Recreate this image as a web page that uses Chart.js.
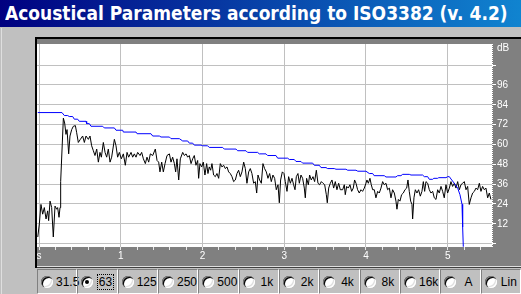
<!DOCTYPE html>
<html>
<head>
<meta charset="utf-8">
<script src="https://cdn.jsdelivr.net/npm/chart.js@4.4.1/dist/chart.umd.min.js"></script>
<style>
    html, body { margin: 0; padding: 0; }
    body {
        width: 521px; height: 294px; position: relative; overflow: hidden;
        background: #c0c0c0; font-family: "Liberation Sans", Arial, sans-serif;
    }
    #title {
        position: absolute; left: 0; top: 0; width: 521px; height: 27px;
        background: linear-gradient(to right, #000080, #1084d0);
    }
    #title span {
        position: absolute; left: 5px; top: 2px; color: #fff; white-space: nowrap;
        font: bold 19px "DejaVu Sans", Verdana, sans-serif; transform-origin: 0 0;
    }
    #edge { position: absolute; left: 1px; top: 28px; width: 1px; height: 266px; background: #dfdfdf; }
    #wrap { position: absolute; left: 35px; top: 37px; width: 486px; height: 231px; }
    .cell {
        position: absolute; top: 269px; height: 25px; box-sizing: border-box;
        border: 1px solid; border-color: #808080 #fff #fff #808080;
    }
    .radio {
        position: absolute; left: 3px; top: 6px; width: 12px; height: 12px; border-radius: 50%;
        background: #fff;
        box-shadow: inset 1px 1px 0 #808080, inset 2px 2px 0 #000, inset -1px -1px 0 #fff, inset -2px -2px 0 #dfdfdf;
    }
    .radio.on::after {
        content: ""; position: absolute; left: 4px; top: 4px; width: 4px; height: 4px;
        border-radius: 50%; background: #000;
    }
    .lbl {
        position: absolute; left: 17px; right: 1px; top: 5px; text-align: center;
        font-size: 12px; line-height: 14px; color: #000;
    }
    .lbl span { padding: 0 1px; }
    .lbl.focus span { outline: 1px dotted #000; }
</style>
</head>
<body>
<div id="title"><span>Acoustical Parameters according to ISO3382 (v. 4.2)</span></div>
<div id="edge"></div>
<div id="wrap"><canvas id="decayChart" width="486" height="231"></canvas></div>
<div id="bands"></div>
<script>
// Filterband buttons
const bandLabels = ['31.5', '63', '125', '250', '500', '1k', '2k', '4k', '8k', '16k', 'A', 'Lin'];
const selectedBand = '63';

// Axis ticks
const xTickLabels = ['s', '1', '2', '3', '4', '5'];
const yTickValues = [0, 12, 24, 36, 48, 60, 72, 84, 96, 108, 118];
const yTickLabels = ['', '12', '24', '36', '48', '60', '72', '84', '96', '', 'dB'];

// Decay curve (black) - time in s, level in dB
const decayT = [-0.015, 0.004, 0.024, 0.045, 0.065, 0.086, 0.106, 0.118, 0.135, 0.155, 0.175, 0.196, 0.216, 0.228, 0.245, 0.257, 0.265,
    0.298, 0.314, 0.330, 0.343, 0.363, 0.379, 0.400, 0.420, 0.445, 0.461, 0.481, 0.506, 0.534, 0.555, 0.575, 0.604, 0.624, 0.644,
    0.665, 0.685, 0.706, 0.726, 0.746, 0.763, 0.787, 0.808, 0.828, 0.848, 0.869, 0.889, 0.922, 0.942, 0.962, 0.983, 1.007, 1.032,
    1.056, 1.077, 1.097, 1.126, 1.146, 1.166, 1.187, 1.207, 1.236, 1.256, 1.277, 1.301, 1.321, 1.342, 1.362, 1.391, 1.423, 1.444,
    1.464, 1.480, 1.501, 1.521, 1.542, 1.566, 1.595, 1.615, 1.635, 1.656, 1.672, 1.688, 1.709, 1.729, 1.758, 1.778, 1.799, 1.819,
    1.839, 1.860, 1.880, 1.900, 1.920, 1.941, 1.953, 1.969, 1.990, 2.010, 2.030, 2.051, 2.067, 2.083, 2.100, 2.116, 2.136, 2.157,
    2.177, 2.198, 2.218, 2.238, 2.259, 2.279, 2.300, 2.320, 2.340, 2.361, 2.381, 2.402, 2.422, 2.442, 2.463, 2.483, 2.504, 2.524,
    2.544, 2.565, 2.585, 2.605, 2.626, 2.646, 2.663, 2.679, 2.699, 2.720, 2.740, 2.760, 2.781, 2.801, 2.822, 2.842, 2.862, 2.883,
    2.903, 2.924, 2.940, 2.956, 2.977, 2.997, 3.013, 3.034, 3.054, 3.075, 3.095, 3.115, 3.132, 3.148, 3.168, 3.185, 3.205, 3.225,
    3.246, 3.258, 3.274, 3.295, 3.311, 3.331, 3.352, 3.372, 3.393, 3.413, 3.433, 3.454, 3.474, 3.495, 3.515, 3.527, 3.544, 3.564,
    3.584, 3.605, 3.625, 3.645, 3.666, 3.686, 3.715, 3.735, 3.747, 3.764, 3.784, 3.804, 3.825, 3.845, 3.861, 3.878, 3.898, 3.918,
    3.939, 3.959, 3.980, 4.000, 4.012, 4.029, 4.049, 4.065, 4.082, 4.102, 4.122, 4.143, 4.163, 4.184, 4.204, 4.224, 4.245, 4.265,
    4.286, 4.306, 4.326, 4.347, 4.367, 4.379, 4.396, 4.416, 4.436, 4.457, 4.477, 4.498, 4.514, 4.530, 4.547, 4.563, 4.571, 4.587,
    4.604, 4.624, 4.644, 4.665, 4.685, 4.702, 4.718, 4.734, 4.755, 4.775, 4.795, 4.816, 4.836, 4.857, 4.877, 4.897, 4.918, 4.938,
    4.958, 4.979, 4.999, 5.020, 5.040, 5.060, 5.081, 5.101, 5.122, 5.142, 5.162, 5.183, 5.203, 5.224, 5.244, 5.264, 5.285, 5.305,
    5.326, 5.346, 5.366, 5.387, 5.407, 5.427, 5.448, 5.468, 5.489, 5.509, 5.529];
const decayDb = [4.0, 11.9, 23.7, 17.8, 21.8, 14.9, 19.8, 13.9, 25.7, 21.8, 4.0, 22.7, 20.8, 21.8, 15.9, 21.8, 37.5,
    75.9, 73.0, 66.1, 69.0, 54.3, 65.1, 69.0, 71.0, 71.4, 67.1, 61.2, 63.1, 65.1, 61.2, 65.1, 63.1, 65.1, 59.2,
    56.2, 53.3, 57.2, 49.3, 55.2, 52.3, 61.2, 55.2, 52.3, 57.2, 49.3, 52.3, 63.1, 59.2, 52.3, 55.2, 51.3, 54.3,
    47.4, 55.2, 52.3, 55.2, 52.3, 54.3, 52.3, 55.2, 53.3, 55.2, 51.3, 48.4, 52.3, 49.3, 54.3, 53.3, 57.2, 50.3,
    49.3, 43.4, 49.3, 43.4, 48.4, 53.3, 54.3, 49.3, 52.3, 48.4, 43.4, 51.3, 38.5, 51.3, 55.2, 53.3, 54.3, 52.3,
    53.3, 48.4, 51.3, 53.3, 47.4, 50.3, 39.5, 48.4, 46.4, 49.3, 41.5, 48.4, 42.4, 46.4, 44.4, 48.4, 41.5, 40.5,
    42.4, 39.5, 48.4, 46.4, 47.4, 45.4, 46.4, 43.4, 42.4, 40.5, 37.5, 38.5, 42.4, 44.4, 40.5, 43.4, 49.3, 45.4,
    36.5, 43.4, 45.4, 42.4, 36.5, 37.5, 30.6, 41.5, 38.5, 36.5, 48.4, 45.4, 43.4, 39.5, 42.4, 37.5, 41.5, 39.5,
    32.6, 35.6, 24.7, 38.5, 43.4, 42.4, 37.5, 31.6, 40.5, 36.5, 39.5, 35.6, 32.6, 40.5, 42.4, 36.5, 41.5, 39.5,
    33.6, 27.7, 39.5, 35.6, 41.5, 38.5, 40.5, 37.5, 44.4, 36.5, 35.6, 37.5, 36.5, 35.6, 29.6, 24.7, 33.6, 36.5,
    38.5, 33.6, 37.5, 32.6, 36.5, 32.6, 32.6, 35.6, 29.6, 34.6, 33.6, 35.6, 31.6, 33.6, 38.5, 36.5, 32.6, 30.6,
    32.6, 31.6, 33.6, 36.5, 38.5, 36.5, 39.5, 35.6, 32.6, 32.6, 27.7, 31.6, 30.6, 33.6, 37.5, 35.6, 36.5, 32.6,
    33.6, 27.7, 32.6, 30.6, 25.7, 20.8, 26.7, 25.7, 29.6, 30.6, 32.6, 33.6, 38.5, 31.6, 25.7, 23.7, 14.9, 27.7,
    32.6, 30.6, 32.6, 28.7, 31.6, 37.5, 31.6, 37.5, 36.5, 32.6, 30.6, 31.6, 27.7, 26.7, 32.6, 30.6, 34.6, 31.6,
    27.7, 35.6, 30.6, 33.6, 37.5, 34.6, 36.5, 33.6, 37.5, 32.6, 35.6, 36.5, 37.5, 32.6, 34.6, 23.7, 27.7, 30.6,
    31.6, 33.6, 32.6, 36.5, 31.6, 34.6, 32.6, 33.6, 27.7, 30.6, 26.7];

// Integrated curve (blue)
const integT = [-0.015, 0.281, 0.310, 0.351, 0.370, 0.412, 0.432, 0.473, 0.493, 0.575, 0.583, 0.616, 0.636, 0.779, 0.799, 0.922,
    0.942, 1.024, 1.032, 1.187, 1.200, 1.370, 1.391, 1.472, 1.493, 1.595, 1.615, 1.717, 1.758, 1.819, 1.839, 1.880, 1.900, 1.982,
    2.002, 2.063, 2.083, 2.247, 2.267, 2.410, 2.430, 2.532, 2.552, 2.675, 2.695, 2.777, 2.797, 2.899, 2.920, 3.042, 3.062, 3.123,
    3.144, 3.205, 3.225, 3.348, 3.368, 3.429, 3.450, 3.511, 3.531, 3.613, 3.633, 3.755, 3.776, 3.878, 3.900, 4.000, 4.041, 4.082,
    4.100, 4.224, 4.245, 4.367, 4.387, 4.428, 4.449, 4.530, 4.551, 4.693, 4.714, 4.755, 4.775, 4.816, 4.830, 4.877, 4.890, 4.979,
    5.000, 5.020, 5.040, 5.081, 5.122, 5.150, 5.175, 5.183, 5.191];
const integDb = [79.3, 79.3, 77.5, 77.5, 76.9, 76.9, 75.3, 75.3, 74.0, 74.0, 72.6, 72.6, 71.0, 71.0, 70.0, 70.0,
    68.6, 68.6, 67.5, 67.5, 66.5, 66.5, 65.1, 65.1, 64.5, 64.5, 63.5, 63.5, 62.1, 62.1, 60.8, 60.8, 59.6, 59.6,
    59.2, 59.2, 58.2, 58.2, 57.2, 57.2, 56.2, 56.2, 55.2, 55.2, 54.3, 54.3, 53.3, 53.3, 51.7, 51.7, 50.9, 50.9,
    49.7, 49.7, 48.7, 48.7, 47.4, 47.4, 46.0, 46.0, 45.4, 45.4, 45.0, 45.0, 44.4, 44.4, 43.8, 43.8, 42.4, 42.4,
    41.1, 41.1, 40.3, 40.3, 41.1, 41.1, 41.9, 41.9, 41.5, 41.5, 40.5, 40.5, 38.9, 38.9, 39.5, 39.5, 39.9, 39.9,
    40.5, 40.5, 39.1, 36.5, 33.6, 29.6, 23.8, 10.0, -1.9];

// Titelzeile auf Breite bringen
const titleSpan = document.querySelector('#title span');
titleSpan.style.transform = `scaleX(${503 / titleSpan.offsetWidth})`;

// Radio-Leiste
const bands = document.getElementById('bands');
const cellW = 484 / bandLabels.length;
bandLabels.forEach((name, i) => {
    const on = name === selectedBand;
    bands.innerHTML += `
        <div class="cell" style="left:${37 + i * cellW}px;width:${cellW}px">
            <div class="radio${on ? ' on' : ''}"></div>
            <div class="lbl${on ? ' focus' : ''}"><span>${name}</span></div>
        </div>`;
});

const isInt = v => Math.abs(v - Math.round(v)) < 1e-6;

// Hintergrund, Rahmen und punktierte Achslinie
const panelPlugin = {
    id: 'panel',
    beforeDraw(chart) {
        const { ctx, chartArea: a, width, height } = chart;
        ctx.save();
        ctx.fillStyle = '#808080';
        ctx.fillRect(0, 0, width, height);
        ctx.fillStyle = '#ffffff';
        ctx.fillRect(a.left, a.top, a.right - a.left, a.bottom - a.top);
        ctx.restore();
    },
    afterDraw(chart) {
        const { ctx, chartArea: a, width, height } = chart;
        ctx.save();
        ctx.fillStyle = '#ffffff';
        for (let y = a.top; y < a.bottom; y += 2) ctx.fillRect(a.right, y, 1, 1);
        ctx.fillStyle = '#000000';
        ctx.fillRect(0, 0, width, 2);
        ctx.fillRect(0, 0, 2, height);
        ctx.fillStyle = '#dfdfdf';
        ctx.fillRect(2, height - 2, width, 1);
        ctx.fillStyle = '#404040';
        ctx.fillRect(2, height - 1, width, 1);
        ctx.restore();
    }
};

const toPoints = (xs, ys) => xs.map((x, i) => ({ x: x, y: ys[i] }));

new Chart(document.getElementById('decayChart'), {
    type: 'line',
    data: {
        datasets: [{
            data: toPoints(integT, integDb),
            borderColor: '#0000ff',
            borderWidth: 1,
            pointRadius: 0,
            tension: 0
        }, {
            data: toPoints(decayT, decayDb),
            borderColor: '#000000',
            borderWidth: 1,
            pointRadius: 0,
            tension: 0
        }]
    },
    options: {
        responsive: false,
        animation: false,
        devicePixelRatio: 1,
        layout: { padding: { left: 2, top: 2, right: 0, bottom: 2 } },
        plugins: { legend: { display: false }, tooltip: { enabled: false } },
        scales: {
            x: {
                type: 'linear',
                min: -0.0245,
                max: 5.542,
                afterFit: s => { s.height = 19; },
                afterBuildTicks: s => {
                    const t = [];
                    for (let i = 0; i <= 27; i++) t.push({ value: i / 5 });
                    s.ticks = t;
                },
                border: { display: false },
                grid: {
                    color: c => isInt(c.tick.value) ? '#c0c0c0' : 'rgba(0,0,0,0)',
                    tickColor: '#e8e8e8',
                    tickLength: 3,
                    lineWidth: 1
                },
                ticks: {
                    autoSkip: false,
                    maxRotation: 0,
                    padding: 0,
                    color: '#ffffff',
                    font: { family: 'Liberation Sans', size: 10 },
                    callback: v => isInt(v) ? xTickLabels[Math.round(v)] : ''
                }
            },
            y: {
                type: 'linear',
                position: 'right',
                min: -2.07,
                max: 120.8,
                afterFit: s => { s.width = 29; },
                afterBuildTicks: s => { s.ticks = yTickValues.map(v => ({ value: v })); },
                border: { display: false },
                grid: {
                    color: c => c.tick.value === 118 ? 'rgba(0,0,0,0)' : '#c0c0c0',
                    tickColor: c => c.tick.value === 118 ? 'rgba(0,0,0,0)' : '#ffffff',
                    tickLength: 4,
                    lineWidth: 1
                },
                ticks: {
                    autoSkip: false,
                    padding: 1,
                    color: '#ffffff',
                    font: { family: 'Liberation Sans', size: 10 },
                    callback: v => yTickLabels[yTickValues.indexOf(v)]
                }
            }
        }
    },
    plugins: [panelPlugin]
});
</script>
</body>
</html>
